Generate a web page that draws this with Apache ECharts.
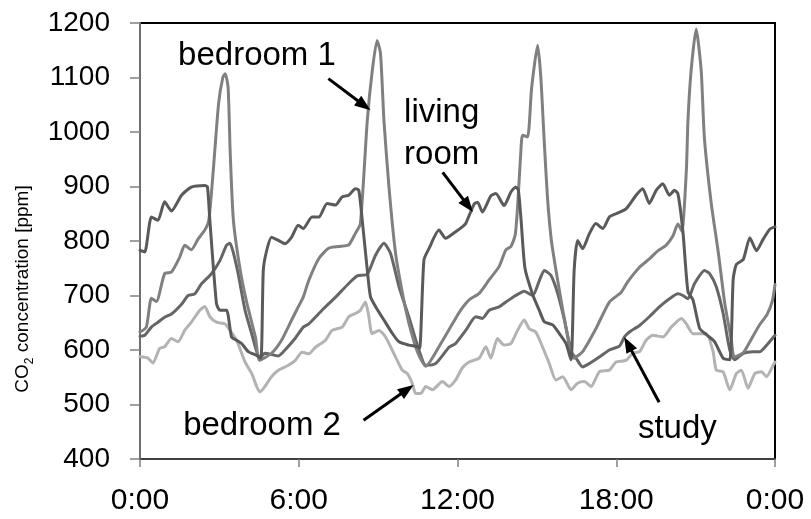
<!DOCTYPE html>
<html><head><meta charset="utf-8">
<script src="https://cdn.jsdelivr.net/npm/echarts@6/dist/echarts.min.js"></script>
<style>html,body{margin:0;padding:0;background:#fff}#c{width:811px;height:519px}</style>
</head><body><div id="c"></div><script>
// ---- data (hour of day, CO2 ppm) ----
const xTicks = [0, 6, 12, 18, 24];
const xTickLabels = ['0:00', '6:00', '12:00', '18:00', '0:00'];
const yTicks = [400, 500, 600, 700, 800, 900, 1000, 1100, 1200];

const livingRoom = [[0,783],[0.18,780],[0.43,844],[0.68,838],[0.93,872],[1.19,855],[1.57,884],[1.94,899],[2.45,902],[2.55,899],[2.64,838],[2.89,685],[3.02,673],[3.27,673],[3.46,624],[3.65,618],[3.84,612],[4.09,597],[4.41,590],[4.57,585],[4.66,746],[4.79,783],[4.97,807],[5.23,801],[5.48,795],[5.73,807],[5.98,829],[6.17,823],[6.5,844],[6.76,844],[7.07,869],[7.39,866],[7.64,881],[7.89,884],[8.14,896],[8.27,893],[8.4,838],[8.59,747],[8.71,698],[8.9,680],[9.22,655],[9.53,631],[9.79,615],[10.16,609],[10.48,606],[10.57,603],[10.73,765],[10.92,786],[11.3,820],[11.55,805],[11.93,817],[12.18,826],[12.31,832],[12.63,868],[12.76,871],[12.94,853],[13.26,883],[13.45,887],[13.76,865],[14.02,890],[14.2,899],[14.3,893],[14.4,840],[14.55,750],[14.84,702],[15.09,673],[15.28,652],[15.6,646],[15.85,630],[16.1,612],[16.29,582],[16.41,747],[16.54,801],[16.73,786],[16.98,813],[17.23,832],[17.49,823],[17.74,844],[17.99,850],[18.37,859],[18.75,884],[19.0,896],[19.25,869],[19.51,893],[19.76,905],[20.01,884],[20.2,893],[20.33,887],[20.52,817],[20.71,707],[20.9,692],[21.15,640],[21.41,628],[21.72,615],[22.04,585],[22.29,582],[22.42,730],[22.54,757],[22.8,766],[23.05,806],[23.3,782],[23.55,803],[23.81,822],[24,826]];

const bedroom1 = [[0,633],[0.24,642],[0.43,695],[0.62,689],[0.93,740],[1.19,743],[1.5,770],[1.69,792],[1.94,784],[2.2,804],[2.45,820],[2.6,838],[2.77,930],[2.97,1052],[3.13,1100],[3.22,1107],[3.33,1082],[3.41,961],[3.53,838],[3.79,746],[4.04,686],[4.36,624],[4.52,581],[4.97,594],[5.35,618],[5.73,655],[5.98,679],[6.17,697],[6.38,728],[6.76,768],[7.14,787],[7.51,790],[7.89,793],[8.14,814],[8.33,832],[8.59,1021],[8.78,1113],[8.96,1168],[9.09,1144],[9.22,1021],[9.41,899],[9.66,777],[9.92,704],[10.16,650],[10.5,595],[10.8,570],[11.3,606],[11.81,648],[12.12,673],[12.44,692],[12.82,704],[13.2,729],[13.57,753],[13.83,784],[14.02,790],[14.18,811],[14.27,862],[14.39,961],[14.46,994],[14.65,991],[14.8,1080],[15.03,1159],[15.15,1100],[15.27,990],[15.4,880],[15.55,800],[15.72,747],[15.98,673],[16.23,612],[16.4,585],[16.73,597],[17.23,639],[17.74,688],[18.19,706],[18.43,725],[18.88,752],[19.25,767],[19.57,782],[19.88,792],[20.14,809],[20.33,831],[20.48,818],[20.65,930],[20.71,1021],[20.83,1113],[21.02,1189],[21.21,1113],[21.33,990],[21.59,869],[21.86,778],[22.1,686],[22.35,618],[22.46,587],[22.8,595],[23.05,615],[23.4,645],[23.7,665],[23.9,690],[24,720]];

const study = [[0,625],[0.18,627],[0.43,642],[0.68,651],[0.93,660],[1.19,666],[1.57,684],[1.82,700],[2.07,703],[2.32,721],[2.7,740],[3.02,764],[3.27,792],[3.4,796],[3.52,780],[3.71,740],[3.97,673],[4.22,630],[4.41,597],[4.53,585],[4.72,594],[5.23,589],[5.48,600],[5.86,621],[6.17,642],[6.38,648],[6.88,673],[7.39,697],[7.89,722],[8.21,736],[8.59,739],[8.9,774],[9.22,796],[9.47,777],[9.79,716],[10.16,661],[10.54,600],[10.8,572],[11.17,575],[11.68,605],[11.93,612],[12.31,636],[12.69,661],[12.94,658],[13.2,673],[13.57,679],[13.83,688],[14.2,700],[14.52,708],[14.84,700],[15.09,727],[15.28,746],[15.53,737],[15.79,703],[16.04,655],[16.29,597],[16.48,585],[16.73,569],[16.98,575],[17.36,587],[17.74,600],[18.12,607],[18.31,624],[18.5,633],[18.88,645],[19.25,661],[19.63,679],[20.01,694],[20.33,703],[20.52,700],[20.71,694],[20.96,722],[21.34,746],[21.53,740],[21.78,716],[22.04,667],[22.29,600],[22.48,582],[22.8,594],[23.17,597],[23.43,597],[23.74,612],[24,627]];

const bedroom2 = [[0,588],[0.3,585],[0.49,576],[0.74,603],[0.93,606],[1.19,621],[1.44,615],[1.69,636],[1.94,651],[2.26,673],[2.45,680],[2.64,661],[2.89,651],[3.21,648],[3.4,636],[3.65,618],[3.97,578],[4.22,557],[4.41,533],[4.53,523],[4.72,533],[4.97,551],[5.23,563],[5.61,572],[5.87,581],[6.12,596],[6.38,593],[6.63,605],[7.01,618],[7.26,636],[7.64,642],[7.89,661],[8.14,667],[8.33,673],[8.52,688],[8.65,661],[8.77,630],[9.03,636],[9.28,624],[9.66,587],[9.91,563],[10.1,557],[10.29,539],[10.42,520],[10.61,520],[10.8,533],[11.05,527],[11.43,542],[11.68,533],[11.93,545],[12.18,567],[12.44,578],[12.82,585],[13.07,606],[13.26,585],[13.51,621],[13.76,609],[14.02,612],[14.27,636],[14.52,655],[14.71,639],[14.96,633],[15.21,606],[15.47,575],[15.72,545],[15.98,551],[16.29,527],[16.54,539],[16.79,542],[17.05,533],[17.36,560],[17.74,563],[17.99,578],[18.37,581],[18.62,594],[18.88,597],[19.13,618],[19.38,627],[19.76,624],[20.08,642],[20.46,658],[20.65,648],[20.9,630],[21.15,630],[21.41,630],[21.66,597],[21.78,563],[22.04,560],[22.29,527],[22.54,557],[22.73,563],[22.98,530],[23.24,557],[23.49,560],[23.68,551],[23.93,572],[24,578]];

// annotation anchors in data coordinates [hour, ppm]
const labelTexts = ['bedroom 1', 'living\nroom', 'bedroom 2', 'study'];
const labelAnchors = [[1.44, 1140], [9.98, 997], [1.63, 460], [18.82, 456]];
const arrowStarts = [[7.12, 1098], [11.44, 926], [8.45, 471], [19.62, 504]];
const arrowEnds = [[8.71, 1040], [12.58, 853], [10.34, 536], [18.3, 624]];

const FONT = 'Arial, "Liberation Sans", Helvetica, sans-serif';
const chart = echarts.init(document.getElementById('c'), null, {renderer: 'canvas'});

function lineSeries(name, data, color) {
  return {
    name, type: 'line', data, showSymbol: false, symbol: 'none', smooth: 0.2,
    lineStyle: {color, width: 3, join: 'round', cap: 'round'},
    itemStyle: {color}, animation: false, z: 2
  };
}

chart.setOption({
  animation: false,
  backgroundColor: '#fff',
  grid: {left: 140, right: 36, top: 23, bottom: 60, show: true, borderColor: '#000', borderWidth: 2},
  xAxis: {
    type: 'value', min: xTicks[0], max: xTicks[xTicks.length - 1], interval: 6,
    axisLine: {lineStyle: {color: '#404040', width: 2}},
    axisTick: {show: true, length: 8, lineStyle: {color: '#808080', width: 1.5}},
    axisLabel: {fontSize: 30, color: '#000', margin: 27, fontFamily: FONT, showMinLabel: true, showMaxLabel: true,
      formatter: v => xTickLabels[xTicks.indexOf(v)]},
    splitLine: {show: false}
  },
  yAxis: {
    type: 'value', min: yTicks[0], max: yTicks[yTicks.length - 1], interval: 100,
    axisLine: {show: true, lineStyle: {color: '#707070', width: 2}},
    axisTick: {show: true, length: 10, lineStyle: {color: '#808080', width: 1.5}},
    axisLabel: {fontSize: 28, color: '#000', margin: 30, fontFamily: FONT, formatter: v => String(v)},
    splitLine: {show: false}
  },
  series: [
    lineSeries('bedroom 2', bedroom2, '#b3b3b3'),
    lineSeries('study', study, '#666666'),
    lineSeries('bedroom 1', bedroom1, '#808080'),
    lineSeries('living room', livingRoom, '#5a5a5a')
  ]
});

// annotations placed through the chart's own coordinate system
const px = p => chart.convertToPixel({gridIndex: 0}, p);
const graphics = [];
labelTexts.forEach((t, i) => {
  const p = px(labelAnchors[i]);
  graphics.push({type: 'text', x: p[0], y: p[1], z: 10,
    style: {text: t, font: '33px ' + FONT, fill: '#000', textAlign: 'left', textVerticalAlign: 'middle', lineHeight: 42}});
});
arrowStarts.forEach((s, i) => {
  const a = px(s), b = px(arrowEnds[i]);
  const dx = b[0] - a[0], dy = b[1] - a[1], len = Math.hypot(dx, dy);
  const ux = dx / len, uy = dy / len, L = 16, W = 12;
  const bx = b[0] - ux * L, by = b[1] - uy * L;
  graphics.push({type: 'line', z: 10, shape: {x1: a[0], y1: a[1], x2: bx + ux, y2: by + uy},
    style: {stroke: '#000', lineWidth: 3}});
  graphics.push({type: 'polygon', z: 10, shape: {points: [[b[0], b[1]], [bx - uy * W / 2, by + ux * W / 2], [bx + uy * W / 2, by - ux * W / 2]]},
    style: {fill: '#000'}});
});
graphics.push({type: 'text', x: 23, y: 289, rotation: Math.PI / 2, z: 10,
  style: {text: '{a|CO}{b|2}{a| concentration [ppm]}', fill: '#000', textAlign: 'center', textVerticalAlign: 'middle',
    rich: {a: {fontSize: 19, fontFamily: FONT, fill: '#000'}, b: {fontSize: 12, fontFamily: FONT, fill: '#000', verticalAlign: 'bottom', padding: [0, 0, -3, 0]}}}});
chart.setOption({graphic: graphics});
</script></body></html>
